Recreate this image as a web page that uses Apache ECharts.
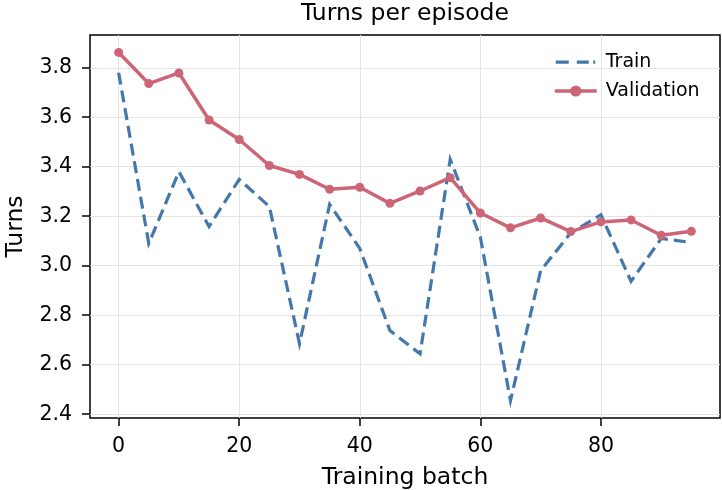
<!DOCTYPE html>
<html>
<head>
<meta charset="utf-8">
<script src="https://cdn.jsdelivr.net/npm/echarts@6/dist/echarts.min.js"></script>
<style>
  html, body { margin: 0; padding: 0; background: #fff; }
  #chart { width: 722px; height: 490px; }
</style>
</head>
<body>
<div id="chart"></div>
<script>
// Training batches (x) and mean turns per episode for each split
const batches = [0, 5, 10, 15, 20, 25, 30, 35, 40, 45, 50, 55, 60, 65, 70, 75, 80, 85, 90, 95];
const trainTurns = [3.78, 3.09, 3.38, 3.158, 3.349, 3.239, 2.685, 3.248, 3.07, 2.738,
                    2.644, 3.43, 3.115, 2.455, 2.98, 3.133, 3.206, 2.937, 3.11, 3.094];
const validationTurns = [3.862, 3.736, 3.779, 3.589, 3.51, 3.405, 3.369, 3.309, 3.317, 3.252,
                         3.302, 3.356, 3.213, 3.153, 3.193, 3.138, 3.177, 3.185, 3.123, 3.139];
const xTicks = [0, 20, 40, 60, 80];
const yTicks = [2.4, 2.6, 2.8, 3.0, 3.2, 3.4, 3.6, 3.8];

const FONT = 'DejaVu Sans';
const INK = '#000';
const BLUE = '#4477AA';
const ROSE = '#CC6677';
const GRID = '#e4e4e4';

// 5% padding on both axes around the data extent
function padded(vals) {
  const lo = Math.min(...vals), hi = Math.max(...vals);
  const p = (hi - lo) * 0.05;
  return [lo - p, hi + p];
}
const [xMin, xMax] = padded(batches);
const [yMin, yMax] = padded(trainTurns.concat(validationTurns));

const pairs = (ys) => batches.map((x, i) => [x, ys[i]]);

// Light grid lines at the tick positions, drawn beneath the curves
const gridLines = {
  silent: true,
  symbol: 'none',
  z: 1,
  label: { show: false },
  lineStyle: { color: GRID, width: 1, type: 'solid' },
  emphasis: { disabled: true },
  data: xTicks.map(v => ({ xAxis: v })).concat(yTicks.map(v => ({ yAxis: v })))
};

// Dashed-line legend key for the training curve (42 x 14 box)
const dashedKey = 'path://M0,0L0,0M42,14L42,14M1,5.5h13v3.2h-13zM22,5.5h12v3.2h-12zM38.5,5.5h2v3.2h-2z';

const chart = echarts.init(document.getElementById('chart'), null, { renderer: 'canvas' });
chart.setOption({
  animation: false,
  backgroundColor: '#fff',
  textStyle: { fontFamily: FONT },
  title: {
    text: 'Turns per episode',
    left: 405,
    textAlign: 'center',
    top: 2,
    padding: 0,
    textStyle: { fontFamily: FONT, fontSize: 23.5, fontWeight: 'normal', color: INK }
  },
  grid: {
    left: 90, right: 2, top: 35, bottom: 72,
    containLabel: false,
    outerBoundsMode: 'none',
    show: true, borderColor: INK, borderWidth: 1.5, backgroundColor: 'transparent'
  },
  legend: {
    orient: 'vertical',
    left: 553,
    top: 52,
    padding: 0,
    itemWidth: 42,
    itemHeight: 14,
    itemGap: 9,
    textStyle: { fontFamily: FONT, fontSize: 19, color: INK, lineHeight: 20, padding: [0, 0, 0, 4] },
    data: [
      { name: 'Train', icon: dashedKey, itemStyle: { color: BLUE } },
      { name: 'Validation', lineStyle: { width: 3.5 } }
    ]
  },
  xAxis: {
    type: 'value',
    min: xMin, max: xMax,
    name: 'Training batch',
    nameLocation: 'middle',
    nameGap: 48,
    nameTextStyle: { fontFamily: FONT, fontSize: 23.5, color: INK },
    axisLine: { show: false, onZero: false },
    axisTick: { show: true, length: 8, lineStyle: { color: INK, width: 1.5 }, customValues: xTicks },
    axisLabel: { fontFamily: FONT, fontSize: 20.5, color: INK, margin: 18, customValues: xTicks,
                 formatter: v => String(Math.round(v)) },
    splitLine: { show: false }
  },
  yAxis: {
    type: 'value',
    min: yMin, max: yMax,
    name: 'Turns',
    nameLocation: 'middle',
    nameGap: 62,
    nameRotate: 90,
    nameTextStyle: { fontFamily: FONT, fontSize: 23.5, color: INK },
    axisLine: { show: false, onZero: false },
    axisTick: { show: true, length: 8, lineStyle: { color: INK, width: 1.5 }, customValues: yTicks },
    axisLabel: { fontFamily: FONT, fontSize: 20.5, color: INK, margin: 18, customValues: yTicks,
                 formatter: v => v.toFixed(1) },
    splitLine: { show: false }
  },
  series: [
    {
      name: 'Train',
      type: 'line',
      data: pairs(trainTurns),
      symbol: 'none',
      z: 3,
      lineStyle: { color: BLUE, width: 3.2, type: [12, 6], cap: 'butt', join: 'miter' },
      itemStyle: { color: BLUE },
      markLine: gridLines
    },
    {
      name: 'Validation',
      type: 'line',
      data: pairs(validationTurns),
      symbol: 'circle',
      symbolSize: 9,
      z: 4,
      lineStyle: { color: ROSE, width: 3.5 },
      itemStyle: { color: ROSE }
    }
  ]
});
</script>
</body>
</html>
